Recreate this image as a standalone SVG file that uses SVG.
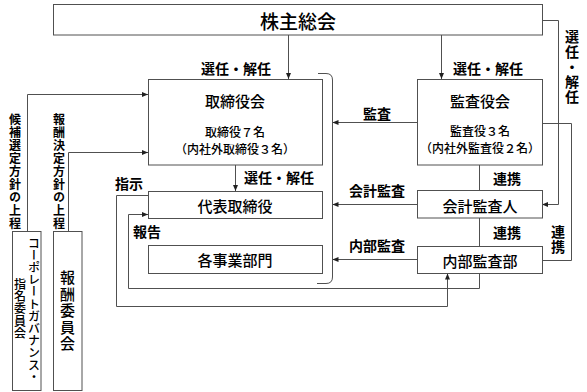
<svg xmlns="http://www.w3.org/2000/svg" width="587" height="392" viewBox="0 0 587 392">
<style>
  text { font-family: "Noto Sans CJK JP", "Noto Sans", sans-serif; fill: #000; font-weight: 500; }
  .box { fill: #fff; stroke: #505050; stroke-width: 1; }
  .ln { fill: none; stroke: #505050; stroke-width: 1; }
  .arr { marker-end: url(#ah); }
  .t20 { font-size: 19px; }
  .t15 { font-size: 15px; }
  .t14 { font-size: 14px; font-weight: 700; }
  .t12 { font-size: 12px; }
  .b { font-weight: 700; }
  .c { text-anchor: middle; dominant-baseline: central; }
  .v { writing-mode: vertical-rl; }
</style>
<defs>
  <marker id="ah" viewBox="0 0 6 6" refX="6" refY="3" markerWidth="6" markerHeight="6" markerUnits="userSpaceOnUse" orient="auto">
    <path d="M0,0.5 L6,3 L0,5.5 Z" fill="#202020"/>
  </marker>
</defs>

<g id="connectors">
  <path class="ln arr" d="M288.5,35 V79"/>
  <path class="ln arr" d="M441.5,35 V79"/>
  <path class="ln arr" d="M542,20.5 H558.5 V204.5 H542"/>
  <path class="ln arr" d="M235.5,165 V191"/>
  <path class="ln arr" d="M417,122.5 H332.5"/>
  <path class="ln arr" d="M417,204.5 H332.5"/>
  <path class="ln arr" d="M417,259.5 H332.5"/>
  <path class="ln" d="M479.5,165 V190"/>
  <path class="ln" d="M479.5,218 V246"/>
  <path class="ln" d="M542,123.5 H571.5 V260.5 H542"/>
  <path class="ln arr" d="M148,195.5 H116.5 V306.5 H447.5 V273.5"/>
  <path class="ln arr" d="M479.5,273 V288.5 H128.5 V214.5 H148"/>
  <path class="ln arr" d="M27.5,231 V94.5 H148"/>
  <path class="ln arr" d="M68.5,231 V152.5 H148"/>
  <path class="ln" d="M318,73.5 H326 Q332.5,73.5 332.5,80 V277 Q332.5,283.5 326,283.5 H317"/>
</g>

<g id="n-shareholders">
  <rect class="box" x="53.5" y="4.5" width="489" height="30.5"/>
  <text class="t20 c" x="298" y="20">株主総会</text>
</g>

<g id="n-board">
  <rect class="box" x="148.5" y="79.5" width="174" height="85.5"/>
  <text class="t15 c" x="235" y="100">取締役会</text>
  <text class="t12 c" x="235" y="131">取締役７名</text>
  <text class="t12 c" x="235" y="148">（内社外取締役３名）</text>
</g>

<g id="n-auditors">
  <rect class="box" x="417.5" y="79.5" width="125" height="85.5"/>
  <text class="t15 c" x="480" y="100">監査役会</text>
  <text class="t12 c" x="480" y="130">監査役３名</text>
  <text class="t12 c" x="480" y="147">（内社外監査役２名）</text>
</g>

<g id="n-ceo">
  <rect class="box" x="148.5" y="191.5" width="174" height="27"/>
  <text class="t15 c" x="235" y="205">代表取締役</text>
</g>

<g id="n-divisions">
  <rect class="box" x="148.5" y="245.5" width="174" height="28"/>
  <text class="t15 c" x="235" y="259">各事業部門</text>
</g>

<g id="n-accountant">
  <rect class="box" x="417.5" y="190.5" width="125" height="27.5"/>
  <text class="t15 c" x="480" y="205">会計監査人</text>
</g>

<g id="n-internal">
  <rect class="box" x="417.5" y="246.5" width="125" height="27"/>
  <text class="t15 c" x="480" y="260">内部監査部</text>
</g>

<g id="n-nomination">
  <rect class="box" x="12.5" y="231.5" width="28.5" height="159"/>
  <text class="t12 v" x="34" y="237" style="letter-spacing:0.2px">コーポレートガバナンス・</text>
  <text class="t12 v" x="20" y="278" style="letter-spacing:0.4px">指名委員会</text>
</g>

<g id="n-remuneration">
  <rect class="box" x="53.5" y="231.5" width="28.5" height="159"/>
  <text class="t15 v" x="67.5" y="270" style="letter-spacing:1.5px">報酬委員会</text>
</g>

<g id="labels">
  <text class="t14 c" x="236" y="68">選任・解任</text>
  <text class="t14 c" x="488" y="68">選任・解任</text>
  <text class="t14 c" x="279" y="177">選任・解任</text>
  <text class="t14 v" x="572" y="30" style="letter-spacing:1px">選任・解任</text>
  <text class="t14 c" x="377" y="113">監査</text>
  <text class="t14 c" x="377" y="190">会計監査</text>
  <text class="t14 c" x="377" y="245">内部監査</text>
  <text class="t14 c" x="507" y="178">連携</text>
  <text class="t14 c" x="507" y="232">連携</text>
  <text class="t14 v" x="558" y="225" style="letter-spacing:1px">連携</text>
  <text class="t14 c" x="129" y="183">指示</text>
  <text class="t14 c" x="147" y="231">報告</text>
  <text class="t12 v b" x="15" y="113" style="letter-spacing:1px">候補選定方針の上程</text>
  <text class="t12 v b" x="59" y="113" style="letter-spacing:1px">報酬決定方針の上程</text>
</g>
</svg>
